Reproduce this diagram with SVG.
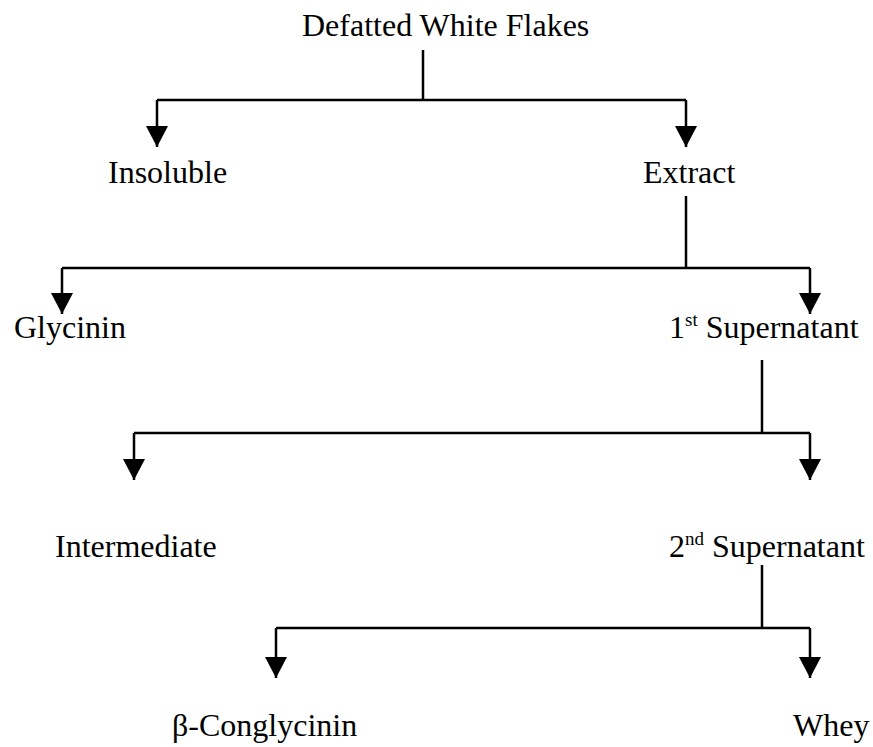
<svg xmlns="http://www.w3.org/2000/svg" width="873" height="747" viewBox="0 0 873 747">
<style>
.lbl{font-family:"Liberation Serif","Times New Roman",serif;font-size:32px;fill:#000}
.sup{font-size:19px}
.ln{stroke:#000;stroke-width:2.5;fill:none}
</style>
<defs>
<marker id="ah" viewBox="0 -11 21 22" refX="21" refY="0" markerWidth="21" markerHeight="22" markerUnits="userSpaceOnUse" orient="auto">
<path d="M0,-11 L21,0 L0,11 Z" fill="#000"/>
</marker>
</defs>
<rect width="873" height="747" fill="#fff"/>
<g id="connectors">
<path class="ln" d="M423,50 V100"/>
<path class="ln" d="M157,100 H686"/>
<path class="ln" d="M157,100 V147" marker-end="url(#ah)"/>
<path class="ln" d="M686,100 V147" marker-end="url(#ah)"/>
<path class="ln" d="M686,196 V268"/>
<path class="ln" d="M62,268 H810"/>
<path class="ln" d="M62,268 V314" marker-end="url(#ah)"/>
<path class="ln" d="M810,268 V314" marker-end="url(#ah)"/>
<path class="ln" d="M762,360 V433"/>
<path class="ln" d="M134,433 H810"/>
<path class="ln" d="M134,433 V480" marker-end="url(#ah)"/>
<path class="ln" d="M810,433 V480" marker-end="url(#ah)"/>
<path class="ln" d="M762,565 V628"/>
<path class="ln" d="M276,628 H810"/>
<path class="ln" d="M276,628 V678" marker-end="url(#ah)"/>
<path class="ln" d="M810,628 V678" marker-end="url(#ah)"/>
</g>
<g id="n-flakes"><text class="lbl" x="302" y="36">Defatted White Flakes</text></g>
<g id="n-insoluble"><text class="lbl" x="108" y="183">Insoluble</text></g>
<g id="n-extract"><text class="lbl" x="643" y="183">Extract</text></g>
<g id="n-glycinin"><text class="lbl" x="14" y="338">Glycinin</text></g>
<g id="n-super1"><text class="lbl" x="669" y="338">1<tspan class="sup" dy="-12">st</tspan><tspan dy="12"> Supernatant</tspan></text></g>
<g id="n-intermediate"><text class="lbl" x="55" y="557">Intermediate</text></g>
<g id="n-super2"><text class="lbl" x="669" y="557">2<tspan class="sup" dy="-12">nd</tspan><tspan dy="12"> Supernatant</tspan></text></g>
<g id="n-conglycinin"><text class="lbl" x="172" y="736">β-Conglycinin</text></g>
<g id="n-whey"><text class="lbl" x="793" y="736">Whey</text></g>
</svg>
